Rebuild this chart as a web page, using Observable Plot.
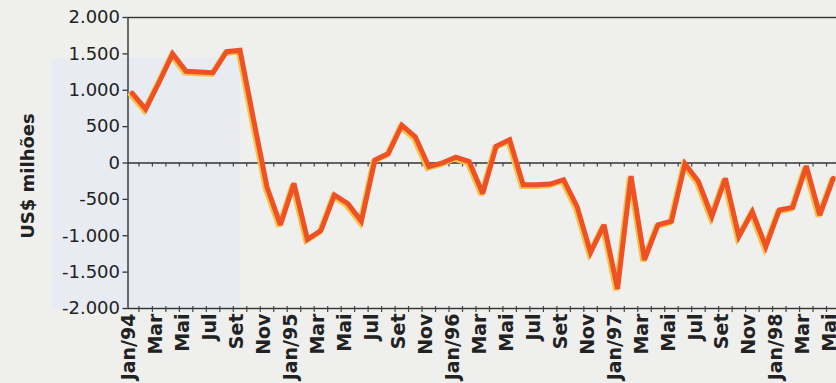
<!DOCTYPE html>
<html><head><meta charset="utf-8">
<script src="https://cdn.jsdelivr.net/npm/d3@7"></script>
<script src="https://cdn.jsdelivr.net/npm/@observablehq/plot@0.6"></script>
<style>
html,body{margin:0;padding:0;}
body{background:linear-gradient(#e8ebf2,#e8ebf2) 52px 58px / 188px 252px no-repeat, #efefed;}
#chart{width:836px;height:383px;overflow:hidden;}
</style></head><body><div id="chart"></div>
<script>
// Month categories (Jan/94 .. Mai/98)
const monthLabels = [
  "Jan/94","Fev","Mar","Abr","Mai","Jun","Jul","Ago","Set","Out","Nov","Dez",
  "Jan/95","Fev","Mar","Abr","Mai","Jun","Jul","Ago","Set","Out","Nov","Dez",
  "Jan/96","Fev","Mar","Abr","Mai","Jun","Jul","Ago","Set","Out","Nov","Dez",
  "Jan/97","Fev","Mar","Abr","Mai","Jun","Jul","Ago","Set","Out","Nov","Dez",
  "Jan/98","Fev","Mar","Abr","Mai"
];
// Monthly balance, US$ milhões
const values = [
  960, 740, 1110, 1500, 1260, 1250, 1240, 1530, 1550, 600, -330, -850,
  -280, -1050, -930, -440, -560, -800, 40, 130, 520, 360, -50, 0,
  80, 20, -420, 230, 320, -300, -300, -290, -230, -600, -1230, -850,
  -1730, -180, -1330, -850, -800, -10, -255, -735, -210, -1010, -670, -1150,
  -645, -610, -40, -715, -210
];
const yTicks = [-2000, -1500, -1000, -500, 0, 500, 1000, 1500, 2000];
const yTitle = "US$ milhões";

const data = values.map((v, i) => ({i, v}));
const labelIdx = monthLabels.map((_, i) => i).filter(i => i % 2 === 0);
const boundaries = d3.range(0.5, monthLabels.length - 0.5, 1);
const fmt = n => (n < 0 ? "-" : "") + d3.format(",")(Math.abs(n)).replace(/,/g, ".");
const F = "DejaVu Sans";

const chart = Plot.plot({
  width: 836,
  height: 383,
  marginLeft: 127.5,
  marginRight: -3.5,
  marginTop: 17,
  marginBottom: 75,
  style: {background: "transparent", fontFamily: F, color: "#222", overflow: "visible"},
  x: {domain: [-0.31, 52.5]},
  y: {domain: [-2000, 2000]},
  marks: [
    Plot.frame({stroke: "#333", strokeWidth: 1.4}),
    Plot.ruleY([0], {stroke: "#333", strokeWidth: 1.3}),
    Plot.ruleX(boundaries, {x: d => d, y1: () => 0, y2: () => 0, insetBottom: -4, stroke: "#444", strokeWidth: 1.2}),
    Plot.ruleX(boundaries, {x: d => d, y1: () => -2000, y2: () => -2000, insetTop: -2, insetBottom: -4, stroke: "#444", strokeWidth: 1.2}),
    Plot.axisY({ticks: yTicks, tickFormat: fmt, tickSize: 5, tickPadding: 3, fontSize: 18, fontFamily: F, stroke: "#333", strokeWidth: 1.3, label: null}),
    Plot.axisX({ticks: labelIdx, tickFormat: i => monthLabels[i], tickRotate: -90, tickSize: 0, tickPadding: 5, dx: -3, fontSize: 19, fontWeight: "bold", fontFamily: F, label: null}),
    Plot.text([yTitle], {frameAnchor: "left", textAnchor: "middle", rotate: -90, dx: -100, dy: 13, fontSize: 18, fontWeight: "bold", fontFamily: F, fill: "#222"}),
    Plot.line(data, {x: "i", y: "v", stroke: "#f6c24a", strokeWidth: 5.5, dx: -1.5, dy: 1.5, strokeLinejoin: "miter", strokeMiterlimit: 3}),
    Plot.line(data, {x: "i", y: "v", stroke: "#ee5224", strokeWidth: 5, strokeLinejoin: "miter", strokeMiterlimit: 3})
  ]
});
document.getElementById("chart").appendChild(chart);
</script></body></html>
